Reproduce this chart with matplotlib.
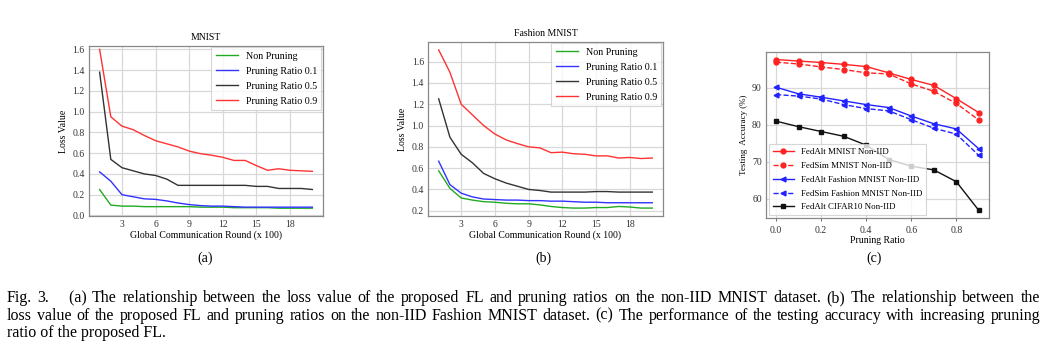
import matplotlib.pyplot as plt
import numpy as np

plt.rcParams['font.family'] = ['Liberation Serif', 'DejaVu Serif']

rounds = np.arange(1, 21)

# (a) MNIST loss
mn_non = [0.25, 0.10, 0.09, 0.09, 0.085, 0.085, 0.085, 0.085, 0.085, 0.08,
          0.08, 0.08, 0.075, 0.075, 0.075, 0.075, 0.07, 0.07, 0.07, 0.07]
mn_p01 = [0.42, 0.33, 0.20, 0.18, 0.16, 0.155, 0.14, 0.12, 0.105, 0.095,
          0.09, 0.09, 0.085, 0.08, 0.08, 0.08, 0.08, 0.08, 0.08, 0.08]
mn_p05 = [1.38, 0.54, 0.46, 0.43, 0.40, 0.385, 0.35, 0.29, 0.29, 0.29,
          0.29, 0.29, 0.29, 0.29, 0.28, 0.28, 0.26, 0.26, 0.26, 0.25]
mn_p09 = [1.60, 0.95, 0.86, 0.826, 0.77, 0.72, 0.69, 0.66, 0.62, 0.595,
          0.58, 0.56, 0.53, 0.53, 0.48, 0.435, 0.45, 0.435, 0.43, 0.425]

# (b) Fashion MNIST loss
fm_non = [0.575, 0.41, 0.32, 0.30, 0.285, 0.28, 0.27, 0.265, 0.265, 0.255,
          0.24, 0.23, 0.225, 0.225, 0.23, 0.23, 0.24, 0.235, 0.225, 0.225]
fm_p01 = [0.665, 0.445, 0.365, 0.33, 0.31, 0.305, 0.30, 0.30, 0.295, 0.295,
          0.29, 0.29, 0.285, 0.28, 0.28, 0.275, 0.275, 0.275, 0.275, 0.275]
fm_p05 = [1.25, 0.89, 0.73, 0.65, 0.55, 0.50, 0.46, 0.43, 0.40, 0.39,
          0.375, 0.375, 0.375, 0.375, 0.38, 0.38, 0.375, 0.375, 0.375, 0.375]
fm_p09 = [1.71, 1.50, 1.20, 1.10, 1.00, 0.92, 0.865, 0.83, 0.80, 0.79,
          0.745, 0.75, 0.735, 0.73, 0.715, 0.715, 0.695, 0.70, 0.69, 0.695]

loss_labels = ['Non Pruning', 'Pruning Ratio 0.1', 'Pruning Ratio 0.5', 'Pruning Ratio 0.9']
loss_colors = ['#22aa22', '#3333ff', '#333333', '#ff3333']

# (c) accuracy vs pruning ratio
ratios = [0.0, 0.1, 0.2, 0.3, 0.4, 0.5, 0.6, 0.7, 0.8, 0.9]
fedalt_mnist = [97.7, 97.3, 96.9, 96.4, 95.8, 94.1, 92.3, 90.7, 87.1, 83.3]
fedsim_mnist = [97.0, 96.5, 95.7, 95.0, 94.1, 93.8, 91.1, 89.1, 85.8, 81.3]
fedalt_fashion = [90.2, 88.4, 87.5, 86.5, 85.5, 84.7, 82.4, 80.3, 78.9, 73.5]
fedsim_fashion = [88.2, 87.8, 87.0, 85.5, 84.4, 83.8, 81.4, 79.1, 77.5, 71.7]
fedalt_cifar = [81.0, 79.5, 78.2, 76.9, 74.5, 70.6, 68.8, 67.8, 64.6, 56.8]

caption = [
    'Fig. 3.  \u2002(a) The relationship between the loss value of the proposed FL and pruning ratios on the non-IID MNIST dataset. (b) The relationship between the',
    'loss value of the proposed FL and pruning ratios on the non-IID Fashion MNIST dataset. (c) The performance of the testing accuracy with increasing pruning',
    'ratio of the proposed FL.',
]

fig = plt.figure(figsize=(10.48, 3.56), dpi=100)

def style(ax):
    ax.set_facecolor('white')
    ax.grid(True, color='#d8d8d8', linewidth=0.9)
    ax.set_axisbelow(True)
    for s in ax.spines.values():
        s.set_color('#888888')
        s.set_linewidth(0.9)
    ax.tick_params(labelsize=7, length=0, pad=3, colors='#333333')

def loss_panel(rect, series, title):
    ax = fig.add_axes(rect)
    style(ax)
    for ys, lab, c in zip(series, loss_labels, loss_colors):
        ax.plot(rounds, ys, color=c, lw=1.0, label=lab)
    ax.set_xticks([3, 6, 9, 12, 15, 18])
    ax.set_title(title, fontsize=7, pad=4)
    ax.set_ylabel('Loss Value', fontsize=7, labelpad=3)
    ax.set_xlabel('Global Communication Round (x 100)', fontsize=7, labelpad=1)
    leg = ax.legend(loc='upper right', fontsize=7.2, frameon=True, fancybox=False,
                    handlelength=2.2, borderpad=0.45, labelspacing=0.6,
                    borderaxespad=0.15)
    leg.get_frame().set_edgecolor('#cccccc')
    leg.get_frame().set_linewidth(0.8)
    return ax

ax1 = loss_panel([0.0849, 0.3933, 0.2233, 0.4775], [mn_non, mn_p01, mn_p05, mn_p09], 'MNIST')
ax1.set_ylim(-0.005, 1.632)
ax1.set_yticks(np.arange(0, 1.61, 0.2))

ax2 = loss_panel([0.4084, 0.3933, 0.2242, 0.4888], [fm_non, fm_p01, fm_p05, fm_p09], 'Fashion MNIST')
ax2.set_yticks(np.arange(0.2, 1.61, 0.2))

ax3 = fig.add_axes([0.7309, 0.3876, 0.2128, 0.4663])
style(ax3)
ax3.tick_params(axis='x', length=2.5, width=0.6, color='#555555')
ax3.plot(ratios, fedalt_mnist, '-o', color='#ff2222', lw=1.0, ms=3.5, label='FedAlt MNIST Non-IID')
ax3.plot(ratios, fedsim_mnist, '--o', color='#ff2222', lw=1.0, ms=3.5, label='FedSim MNIST Non-IID')
ax3.plot(ratios, fedalt_fashion, '-<', color='#2222ff', lw=1.0, ms=3.5, label='FedAlt Fashion MNIST Non-IID')
ax3.plot(ratios, fedsim_fashion, '--<', color='#2222ff', lw=1.0, ms=3.5, label='FedSim Fashion MNIST Non-IID')
ax3.plot(ratios, fedalt_cifar, '-s', color='#111111', lw=1.0, ms=3.2, label='FedAlt CIFAR10 Non-IID')
ax3.set_yticks([60, 70, 80, 90])
ax3.set_xticks([0.0, 0.2, 0.4, 0.6, 0.8])
ax3.set_ylabel('Testing  Accuracy (%)', fontsize=6.5, labelpad=3)
ax3.set_xlabel('Pruning Ratio', fontsize=7, labelpad=1)
leg3 = ax3.legend(loc='lower left', fontsize=6.4, frameon=True, fancybox=False,
                  handlelength=2.4, borderpad=0.45, labelspacing=0.62,
                  borderaxespad=0.3)
leg3.get_frame().set_edgecolor('#cccccc')
leg3.get_frame().set_linewidth(0.8)

for x, lab in [(0.196, '(a)'), (0.519, '(b)'), (0.834, '(c)')]:
    fig.text(x, 0.274, lab, fontsize=10, ha='center', va='center')

# caption: first two lines justified between left and right margins
fs = 11.5
x0, x1 = 7, 1040
renderer = fig.canvas.get_renderer()
W = fig.bbox.width
for i, line in enumerate(caption):
    y = 1 - (302 + 17.5 * i) / 356
    if i == len(caption) - 1:
        fig.text(x0 / W, y, line, fontsize=fs, ha='left', va='baseline')
        continue
    words = line.split(' ')
    texts = [fig.text(0, y, w, fontsize=fs, ha='left', va='baseline') for w in words]
    widths = [t.get_window_extent(renderer).width if w else 0 for t, w in zip(texts, words)]
    gap = (x1 - x0 - sum(widths)) / (len(words) - 1)
    x = x0
    for t, w in zip(texts, widths):
        t.set_x(x / W)
        x += w + gap

fig.savefig('out.png', dpi=100)
